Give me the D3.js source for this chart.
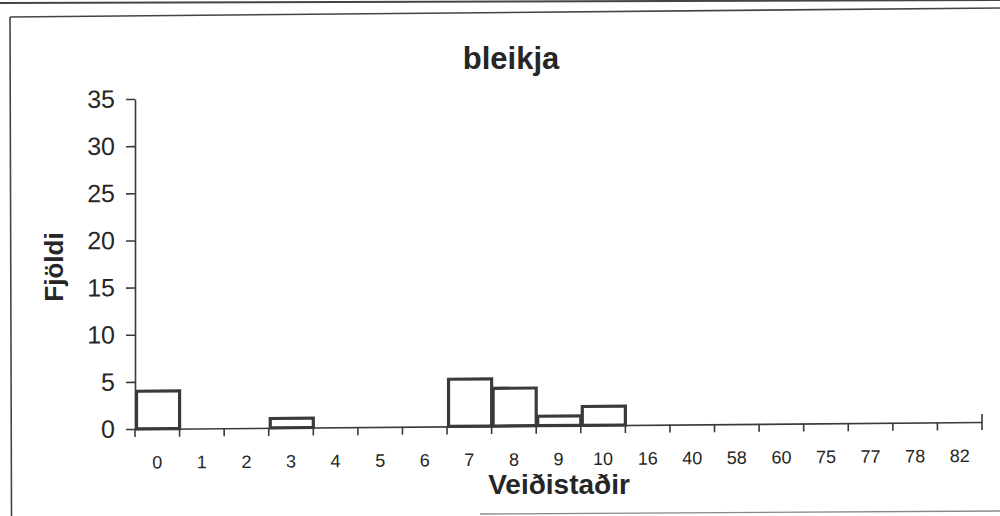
<!DOCTYPE html>
<html>
<head>
<meta charset="utf-8">
<script src="https://cdn.jsdelivr.net/npm/d3@7"></script>
<style>
  html, body { margin: 0; padding: 0; background: #fff; }
  svg { display: block; }
  text { font-family: "Liberation Sans", Arial, sans-serif; fill: #262626; }
</style>
</head>
<body>
<svg id="chart" width="1000" height="516"></svg>
<script>
// Catch locations (Veiðistaðir) and number of Arctic charr caught at each
const categories = ["0", "1", "2", "3", "4", "5", "6", "7", "8", "9", "10",
                    "16", "40", "58", "60", "75", "77", "78", "82"];
const counts = [4, 0, 0, 1, 0, 0, 0, 5, 4, 1, 2, 0, 0, 0, 0, 0, 0, 0, 0];
const yTicks = [0, 5, 10, 15, 20, 25, 30, 35];
const titleText = "bleikja";
const xTitle = "Veiðistaðir";
const yTitle = "Fjöldi";

const svg = d3.select("#chart");
const ink = "#3a3a3a";

// Panel frame lines
const frame = svg.append("g").attr("stroke", "#444").attr("fill", "none");
frame.append("line").attr("x1", 0).attr("y1", 3).attr("x2", 1000).attr("y2", 0).attr("stroke-width", 2);
frame.append("line").attr("x1", 10).attr("y1", 17).attr("x2", 1000).attr("y2", 8).attr("stroke-width", 1.6);
frame.append("line").attr("x1", 10).attr("y1", 17).attr("x2", 11.5).attr("y2", 516).attr("stroke-width", 1.6);
frame.append("line").attr("x1", 480).attr("y1", 514).attr("x2", 1000).attr("y2", 511)
  .attr("stroke", "#888").attr("stroke-width", 1.4);

const x = d3.scaleBand().domain(categories).range([135, 982]).padding(0);
const y = d3.scaleLinear().domain([0, 35]).range([429, 99]);

// Plot area, with a slight tilt of the baseline
const plot = svg.append("g")
  .attr("transform", "translate(135,429) skewY(-0.47) translate(-135,-429)");

// Bars
plot.append("g")
  .selectAll("rect")
  .data(categories.map((c, i) => ({ c, v: counts[i] })).filter(d => d.v > 0))
  .join("rect")
  .attr("x", d => x(d.c) + 1.5)
  .attr("width", x.bandwidth() - 1.5)
  .attr("y", d => y(d.v))
  .attr("height", d => y(0) - y(d.v))
  .attr("fill", "#fff")
  .attr("stroke", ink)
  .attr("stroke-width", 3.2);

// Y axis
const yAxis = plot.append("g")
  .attr("transform", `translate(${x.range()[0]},0)`)
  .call(d3.axisLeft(y).tickValues(yTicks).tickSize(9).tickPadding(11).tickSizeOuter(0));
yAxis.selectAll("path, line").attr("stroke", ink).attr("stroke-width", 1.6);
yAxis.selectAll("text").attr("font-size", 25).attr("fill", "#262626")
  .style("font-family", "'Liberation Sans', Arial, sans-serif");

// X axis: labels centred in bands, tick marks on band boundaries
const xAxis = plot.append("g")
  .attr("transform", `translate(0,${y(0)})`)
  .call(d3.axisBottom(x).tickSize(0).tickPadding(27).tickSizeOuter(0));
xAxis.select("path").attr("stroke", ink).attr("stroke-width", 1.6);
xAxis.selectAll("text").attr("font-size", 18).attr("fill", "#262626")
  .style("font-family", "'Liberation Sans', Arial, sans-serif");
xAxis.selectAll("line.bound")
  .data(categories.map(c => x(c)).concat([x.range()[1]]))
  .join("line")
  .attr("class", "bound")
  .attr("x1", d => d).attr("x2", d => d)
  .attr("y1", (d, i, n) => i === n.length - 1 ? -8 : 0)
  .attr("y2", 8)
  .attr("stroke", ink).attr("stroke-width", 1.6);

// Titles
svg.append("text")
  .attr("x", 511).attr("y", 69)
  .attr("text-anchor", "middle")
  .attr("font-size", 31).attr("font-weight", "bold")
  .text(titleText);

svg.append("text")
  .attr("x", 559).attr("y", 494)
  .attr("text-anchor", "middle")
  .attr("font-size", 28).attr("font-weight", "bold")
  .text(xTitle);

svg.append("text")
  .attr("transform", "translate(63,267) rotate(-90)")
  .attr("text-anchor", "middle")
  .attr("font-size", 26).attr("font-weight", "bold")
  .text(yTitle);
</script>
</body>
</html>
